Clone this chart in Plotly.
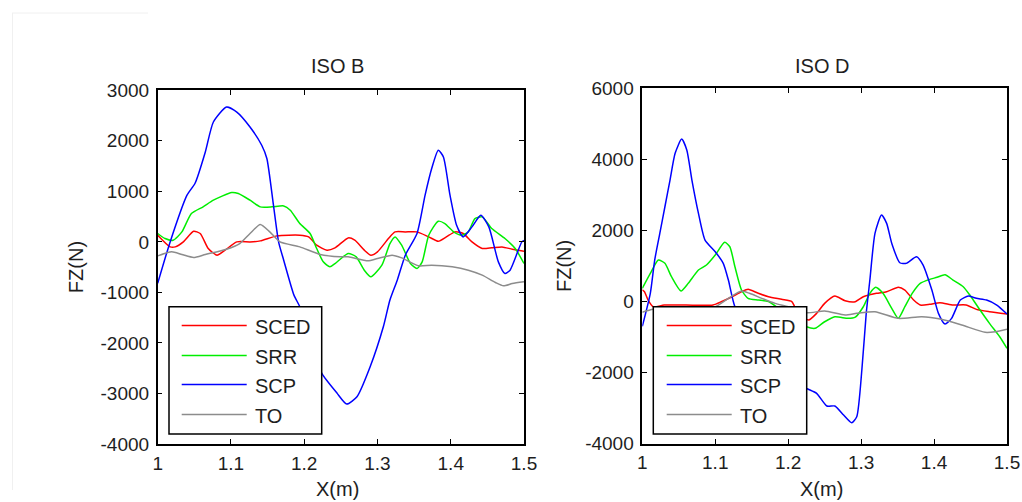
import plotly.graph_objects as go

# ---------------- data ----------------
SERIES = ["SCED", "SRR", "SCP", "TO"]
COLORS = ["#ff0000", "#00ee00", "#0000ff", "#8c8c8c"]

# ISO B panel
B_SCED_X = [1.000, 1.017, 1.024, 1.035, 1.049, 1.058, 1.069, 1.081, 1.092, 1.108, 1.126, 1.140, 1.163, 1.194, 1.206, 1.217,
            1.231, 1.242, 1.260, 1.269, 1.282, 1.291, 1.300, 1.315, 1.324, 1.338, 1.354, 1.370, 1.383, 1.394, 1.406, 1.417,
            1.429, 1.443, 1.456, 1.470, 1.484, 1.500]
B_SCED_Y = [132, -99, -99, 0, 211, 166, -131, -263, -164, 0, 0, 20, 119, 132, 99, -66,
            -164, -118, 79, 33, -164, -263, -197, 66, 198, 198, 198, 99, 13, 99, 198, 166,
            0, -131, -118, -99, -145, -184]

B_SRR_X = [1.000, 1.010, 1.021, 1.033, 1.046, 1.062, 1.076, 1.101, 1.110, 1.126, 1.140, 1.156, 1.172, 1.181, 1.194, 1.208,
           1.217, 1.226, 1.235, 1.242, 1.260, 1.271, 1.282, 1.291, 1.306, 1.317, 1.324, 1.333, 1.345, 1.354, 1.361, 1.370,
           1.383, 1.392, 1.404, 1.415, 1.424, 1.433, 1.443, 1.456, 1.474, 1.488, 1.500]
B_SRR_Y = [166, 66, 33, 198, 561, 693, 825, 977, 957, 825, 693, 693, 712, 627, 363, 166,
           -131, -395, -494, -430, -230, -296, -560, -692, -461, -33, 99, -66, -428, -527, -395, 132,
           409, 363, 198, 132, 198, 462, 495, 264, 66, -131, -428]

B_SCP_X = [1.000, 1.017, 1.040, 1.051, 1.065, 1.076, 1.094, 1.108, 1.126, 1.142, 1.149, 1.158, 1.165, 1.172, 1.186, 1.194,
           1.205, 1.215, 1.224, 1.245, 1.258, 1.272, 1.290, 1.308, 1.317, 1.327, 1.338, 1.354, 1.365, 1.374, 1.383, 1.390,
           1.399, 1.408, 1.417, 1.429, 1.441, 1.452, 1.465, 1.474, 1.481, 1.497, 1.500]
B_SCP_Y = [-820, 0, 924, 1160, 1780, 2373, 2670, 2570, 2275, 1912, 1650, 726, 0, -362, -1054, -1285,
           -1800, -2250, -2603, -2998, -3210, -3065, -2472, -1681, -1150, -757, -263, 166, 924, 1451, 1813, 1681,
           924, 330, 99, 297, 528, 297, -395, -625, -560, 0, 30]

B_TO_X = [1.000, 1.019, 1.033, 1.049, 1.065, 1.094, 1.112, 1.126, 1.140, 1.153, 1.167, 1.194, 1.222, 1.249, 1.260, 1.287,
          1.300, 1.320, 1.333, 1.356, 1.374, 1.402, 1.424, 1.443, 1.461, 1.472, 1.484, 1.500]
B_TO_Y = [-277, -197, -250, -309, -250, -145, -33, 166, 343, 198, 0, -99, -250, -296, -296, -375,
          -329, -263, -316, -474, -461, -494, -560, -659, -804, -870, -824, -791]

# ISO D panel
D_SCED_X = [1.000, 1.003, 1.008, 1.015, 1.030, 1.060, 1.097, 1.109, 1.123, 1.136, 1.145, 1.159, 1.173, 1.191, 1.205, 1.209,
            1.218, 1.228, 1.239, 1.250, 1.264, 1.278, 1.292, 1.303, 1.321, 1.335, 1.351, 1.360, 1.372, 1.381, 1.394, 1.408,
            1.426, 1.444, 1.458, 1.476, 1.500]
D_SCED_Y = [330, 276, 42, -146, -100, -100, -98, 0, 135, 276, 343, 231, 135, 62, 0, -146,
            -400, -520, -332, -51, 155, 22, -5, 135, 231, 276, 400, 324, 42, -98, -79, -33,
            -98, -98, -220, -286, -352]

D_SRR_X = [1.000, 1.011, 1.022, 1.031, 1.040, 1.053, 1.063, 1.077, 1.088, 1.100, 1.113, 1.120, 1.127, 1.136, 1.145, 1.159,
           1.173, 1.200, 1.209, 1.225, 1.237, 1.250, 1.264, 1.282, 1.292, 1.303, 1.312, 1.320, 1.330, 1.342, 1.351, 1.360,
           1.370, 1.381, 1.394, 1.404, 1.415, 1.426, 1.440, 1.449, 1.463, 1.476, 1.490, 1.500]
D_SRR_Y = [371, 793, 1168, 1075, 698, 295, 512, 886, 1027, 1308, 1666, 1542, 979, 324, 90, 42,
           0, -400, -520, -709, -754, -568, -428, -473, -440, -146, 231, 400, 231, -191, -473, -146,
           231, 512, 624, 681, 755, 605, 417, 183, -239, -614, -990, -1317]

D_SCP_X = [1.000, 1.011, 1.017, 1.024, 1.031, 1.038, 1.045, 1.054, 1.061, 1.068, 1.077, 1.086, 1.100, 1.111, 1.118, 1.127,
           1.150, 1.180, 1.205, 1.225, 1.239, 1.253, 1.264, 1.276, 1.287, 1.294, 1.301, 1.307, 1.312, 1.319, 1.328, 1.335,
           1.342, 1.353, 1.362, 1.376, 1.385, 1.397, 1.406, 1.415, 1.424, 1.436, 1.447, 1.458, 1.472, 1.486, 1.500]
D_SCP_Y = [-700, 231, 1168, 1919, 2667, 3419, 4170, 4572, 4263, 3419, 2481, 1730, 1401, 1075, 605, -146,
           -900, -1700, -2200, -2442, -2583, -2940, -2940, -3193, -3410, -3241, -1927, -332, 605, 1919, 2434, 2200,
           1637, 1092, 1075, 1261, 1027, 324, -332, -633, -473, 42, 155, 90, 42, -98, -350]

D_TO_X = [1.000, 1.015, 1.050, 1.080, 1.100, 1.118, 1.136, 1.147, 1.164, 1.182, 1.200, 1.225, 1.250, 1.278, 1.294, 1.319,
          1.351, 1.383, 1.410, 1.438, 1.470, 1.484, 1.500]
D_TO_Y = [-300, -220, -200, -180, -146, 90, 295, 231, 90, -51, -146, -315, -267, -380, -332, -286,
          -473, -428, -501, -661, -867, -850, -782]

X_TICKS = [1, 1.1, 1.2, 1.3, 1.4, 1.5]
X_TICK_TEXT = ["1", "1.1", "1.2", "1.3", "1.4", "1.5"]
B_Y_TICKS = [-4000, -3000, -2000, -1000, 0, 1000, 2000, 3000]
D_Y_TICKS = [-4000, -2000, 0, 2000, 4000, 6000]

TITLES = ["ISO B", "ISO D"]
X_LABEL = "X(m)"
Y_LABEL = "FZ(N)"

# ---------------- layout helpers ----------------
W, H = 1022, 502
FONT = "Liberation Sans, Arial, sans-serif"
TXT = "#1e1e1e"


def fx(p):
    return p / W


def fy(p):
    return 1 - p / H


fig = go.Figure()

panels = [
    (list(zip([B_SCED_X, B_SRR_X, B_SCP_X, B_TO_X], [B_SCED_Y, B_SRR_Y, B_SCP_Y, B_TO_Y])), "x", "y"),
    (list(zip([D_SCED_X, D_SRR_X, D_SCP_X, D_TO_X], [D_SCED_Y, D_SRR_Y, D_SCP_Y, D_TO_Y])), "x2", "y2"),
]
for data, xa, ya in panels:
    for (xs, ys), name, col in zip(data, SERIES, COLORS):
        fig.add_trace(go.Scatter(x=xs, y=ys, mode="lines", name=name, xaxis=xa, yaxis=ya,
                                 line=dict(color=col, width=1.5, shape="spline", smoothing=0.6),
                                 showlegend=False))

axis_common = dict(showline=True, linecolor="black", linewidth=1.5, mirror="ticks",
                   ticks="inside", ticklen=5, tickwidth=1, tickcolor="black",
                   showgrid=False, zeroline=False, automargin=False,
                   tickfont=dict(family=FONT, size=19, color=TXT))

# pixel boxes of the two axes
L_BOX = (157.7, 524.0, 90.3, 444.0)
R_BOX = (642.3, 1007.0, 88.3, 443.7)

fig.update_layout(
    template="none",
    width=W, height=H, margin=dict(l=0, r=0, t=0, b=0, pad=0, autoexpand=False),
    paper_bgcolor="white", plot_bgcolor="white", showlegend=False,
    xaxis=dict(domain=[fx(L_BOX[0]), fx(L_BOX[1])], range=[1, 1.5], tickvals=X_TICKS, ticktext=X_TICK_TEXT,
               anchor="y", ticklabelstandoff=1, **axis_common),
    yaxis=dict(domain=[fy(L_BOX[3]), fy(L_BOX[2])], range=[-4000, 3000], tickvals=B_Y_TICKS,
               ticktext=[str(v) for v in B_Y_TICKS],
               anchor="x", ticklabelstandoff=3, **axis_common),
    xaxis2=dict(domain=[fx(R_BOX[0]), fx(R_BOX[1])], range=[1, 1.5], tickvals=X_TICKS, ticktext=X_TICK_TEXT,
                anchor="y2", ticklabelstandoff=1, **axis_common),
    yaxis2=dict(domain=[fy(R_BOX[3]), fy(R_BOX[2])], range=[-4000, 6000], tickvals=D_Y_TICKS,
                ticktext=[str(v) for v in D_Y_TICKS],
                anchor="x2", ticklabelstandoff=3, **axis_common),
)

annotations = []
shapes = []

# titles, axis labels
for title, box, ycx in [(TITLES[0], L_BOX, 76), (TITLES[1], R_BOX, 564)]:
    cx = (box[0] + box[1]) / 2 - 3
    annotations.append(dict(text=title, x=fx(cx), y=fy(66), xref="paper", yref="paper",
                            xanchor="center", yanchor="middle", showarrow=False,
                            font=dict(family=FONT, size=20, color=TXT)))
    annotations.append(dict(text=X_LABEL, x=fx(cx), y=fy(489), xref="paper", yref="paper",
                            xanchor="center", yanchor="middle", showarrow=False,
                            font=dict(family=FONT, size=20, color=TXT)))
    annotations.append(dict(text=Y_LABEL, x=fx(ycx), y=fy((box[2] + box[3]) / 2), xref="paper", yref="paper",
                            xanchor="center", yanchor="middle", showarrow=False, textangle=-90,
                            font=dict(family=FONT, size=20, color=TXT)))

# manual legends (MATLAB style long line samples)
LEG = [  # box left, box right, top, bottom, line x0, line x1, text x
    (169.0, 321.7, 306.7, 434.0, 181.7, 246.7, 253.0),
    (653.3, 806.7, 306.7, 434.0, 666.7, 731.7, 738.0),
]
ROW_Y = [326.5, 356.5, 385.5, 415.5]
for bl, br, bt, bb, l0, l1, tx in LEG:
    shapes.append(dict(type="rect", xref="paper", yref="paper", x0=fx(bl), x1=fx(br), y0=fy(bb), y1=fy(bt),
                       line=dict(color="black", width=1.5), fillcolor="white", layer="above"))
    for name, col, ry in zip(SERIES, COLORS, ROW_Y):
        shapes.append(dict(type="line", xref="paper", yref="paper", x0=fx(l0), x1=fx(l1), y0=fy(ry - 1), y1=fy(ry - 1),
                           line=dict(color=col, width=1.5), layer="above"))
        annotations.append(dict(text=name, x=fx(tx), y=fy(ry), xref="paper", yref="paper",
                                xanchor="left", yanchor="middle", showarrow=False,
                                font=dict(family=FONT, size=20, color=TXT)))

# faint figure frame remnant at the top-left
shapes.append(dict(type="line", xref="paper", yref="paper", x0=fx(12), x1=fx(148), y0=fy(13), y1=fy(13),
                   line=dict(color="#f0f0f0", width=1), layer="below"))
shapes.append(dict(type="line", xref="paper", yref="paper", x0=fx(12.5), x1=fx(12.5), y0=fy(13), y1=fy(490),
                   line=dict(color="#f0f0f0", width=1), layer="below"))

fig.update_layout(annotations=annotations, shapes=shapes)

fig.write_html("out.html")
